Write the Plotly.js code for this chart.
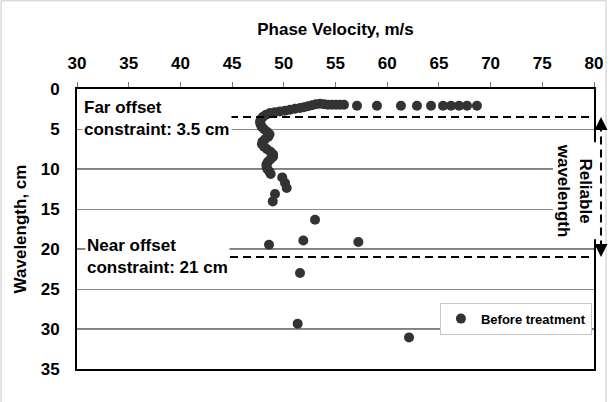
<!DOCTYPE html>
<html>
<head>
<meta charset="utf-8">
<script src="https://cdn.plot.ly/plotly-3.0.1.min.js"></script>
<style>
  html, body { margin: 0; padding: 0; background: #fff; }
  #chart { width: 610px; height: 402px; }
</style>
</head>
<body>
<div id="chart"></div>
<script>
// Dispersion curve: phase velocity (m/s) against wavelength (cm)
const seriesName = 'Before treatment';
const phaseVelocity = [
  68.68, 67.72, 66.95, 66.17, 65.40, 64.24, 62.88, 61.33, 59.01, 57.08,
  55.82, 55.44, 55.05, 54.66, 54.27, 53.89, 53.50, 53.11, 52.73, 52.34,
  51.95, 51.57, 51.08, 50.60, 50.12, 49.63, 49.15, 48.67, 48.28, 47.99,
  47.79, 47.70, 47.75, 47.86, 48.09, 48.38, 48.62, 48.50, 48.18, 47.94,
  47.89, 48.09, 48.38, 48.71, 48.96, 48.96, 48.71, 48.47, 48.33, 48.33,
  48.42, 48.62, 48.73, 49.85, 50.12, 50.28, 49.15, 48.93, 53.02, 51.89,
  57.21, 48.57, 51.57, 51.34, 62.11
];
const wavelength = [
  2.09, 2.09, 2.09, 2.09, 2.09, 2.09, 2.09, 2.09, 2.09, 2.09,
  1.96, 1.96, 1.96, 1.96, 1.96, 1.90, 1.84, 1.90, 2.03, 2.15,
  2.28, 2.38, 2.46, 2.59, 2.71, 2.80, 2.90, 3.00, 3.21, 3.46,
  3.78, 4.09, 4.40, 4.71, 5.03, 5.34, 5.65, 5.96, 6.28, 6.59,
  6.90, 7.21, 7.53, 7.84, 8.15, 8.46, 8.78, 9.09, 9.40, 9.71,
  10.03, 10.34, 10.63, 11.05, 11.75, 12.38, 13.13, 14.05, 16.34, 18.93,
  19.13, 19.46, 23.00, 29.34, 31.05
];

// Offset constraints bounding the reliable wavelength band (cm)
const farOffset = 3.5;
const nearOffset = 21;
const farLabel = 'Far offset<br>constraint: 3.5 cm';
const nearLabel = 'Near offset<br>constraint: 21 cm';
const bandLabel = 'Reliable<br>wavelength';

// Axis settings
const xRange = [30, 80];
const yRange = [35, 0];
const tickStep = 5;
const darkGrid = [10, 20, 30];

const FONT = 'Liberation Sans, Arial, Helvetica, sans-serif';
const bold = (size) => ({ family: FONT, size: size, weight: 'bold', color: '#000' });

const trace = {
  type: 'scatter',
  mode: 'markers',
  name: seriesName,
  x: phaseVelocity,
  y: wavelength,
  marker: { color: '#333333', size: 10 },
  showlegend: true
};

const shapes = [];
// darker gridlines every 10 cm
darkGrid.forEach(v => shapes.push({
  type: 'line', xref: 'paper', yref: 'y', x0: 0, x1: 1, y0: v, y1: v,
  layer: 'between', line: { color: '#000', width: 1 }
}));
// dashed constraint lines
[farOffset, nearOffset].forEach(v => shapes.push({
  type: 'line', xref: 'paper', yref: 'y', x0: 0.296, x1: 1, y0: v, y1: v,
  line: { color: '#000', width: 2, dash: '8px,5px' }
}));
// dashed double arrow on the right
shapes.push({
  type: 'line', xref: 'paper', yref: 'y', x0: 1.0135, x1: 1.0135,
  y0: farOffset + 0.8, y1: nearOffset - 0.8,
  line: { color: '#000', width: 2, dash: '8px,5px' }
});
// outer frame
shapes.push({
  type: 'rect', xref: 'paper', yref: 'paper',
  x0: -0.147, x1: 1.0232, y0: -0.2, y1: 1.315,
  line: { color: '#c8c8c8', width: 1 }, fillcolor: 'rgba(0,0,0,0)'
});

const annotations = [
  {
    xref: 'paper', yref: 'y', x: 0.009, y: 3.72, xanchor: 'left', yanchor: 'middle',
    text: farLabel, align: 'left', showarrow: false, bgcolor: '#fff', borderpad: 1,
    font: bold(17)
  },
  {
    xref: 'paper', yref: 'y', x: 0.015, y: 20.96, xanchor: 'left', yanchor: 'middle',
    text: nearLabel, align: 'left', showarrow: false, bgcolor: '#fff', borderpad: 1,
    font: bold(17)
  },
  {
    xref: 'paper', yref: 'y', x: 0.963, y: 12.7, xanchor: 'center', yanchor: 'middle',
    text: bandLabel, textangle: 90, align: 'center', showarrow: false, bgcolor: '#fff',
    font: bold(17)
  },
  // arrowheads of the reliable band
  {
    xref: 'paper', yref: 'y', x: 1.0135, y: farOffset, ax: 0, ay: 12, text: '',
    showarrow: true, arrowhead: 2, arrowsize: 1.3, arrowwidth: 2, arrowcolor: '#000', standoff: 0
  },
  {
    xref: 'paper', yref: 'y', x: 1.0135, y: nearOffset, ax: 0, ay: -12, text: '',
    showarrow: true, arrowhead: 2, arrowsize: 1.3, arrowwidth: 2, arrowcolor: '#000', standoff: 0
  }
];

const layout = {
  width: 610,
  height: 402,
  margin: { l: 77, r: 16, t: 89, b: 33 },
  paper_bgcolor: '#fff',
  plot_bgcolor: '#fff',
  font: { family: FONT, color: '#000' },
  xaxis: {
    side: 'top',
    range: xRange,
    tick0: 30, dtick: tickStep,
    ticks: 'outside', ticklen: 5, tickwidth: 1, tickcolor: '#777',
    ticklabelstandoff: 6,
    showline: true, linecolor: '#000', linewidth: 2, mirror: true,
    showgrid: false, zeroline: false,
    tickfont: bold(17),
    title: { text: 'Phase Velocity, m/s', font: bold(17), standoff: 14 }
  },
  yaxis: {
    range: yRange,
    tick0: 0, dtick: tickStep,
    ticks: '',
    ticklabelstandoff: 12,
    showline: true, linecolor: '#000', linewidth: 2, mirror: true,
    showgrid: true, gridcolor: '#8c8c8c', gridwidth: 1, zeroline: false,
    tickfont: bold(17),
    title: { text: 'Wavelength, cm', font: bold(17), standoff: 10 }
  },
  legend: {
    x: 0.996, y: 0.237, xanchor: 'right', yanchor: 'top',
    bgcolor: '#fff', bordercolor: '#c8c8c8', borderwidth: 1,
    font: bold(13)
  },
  shapes: shapes,
  annotations: annotations
};

Plotly.newPlot('chart', [trace], layout, { displayModeBar: false, staticPlot: true });
</script>
</body>
</html>
